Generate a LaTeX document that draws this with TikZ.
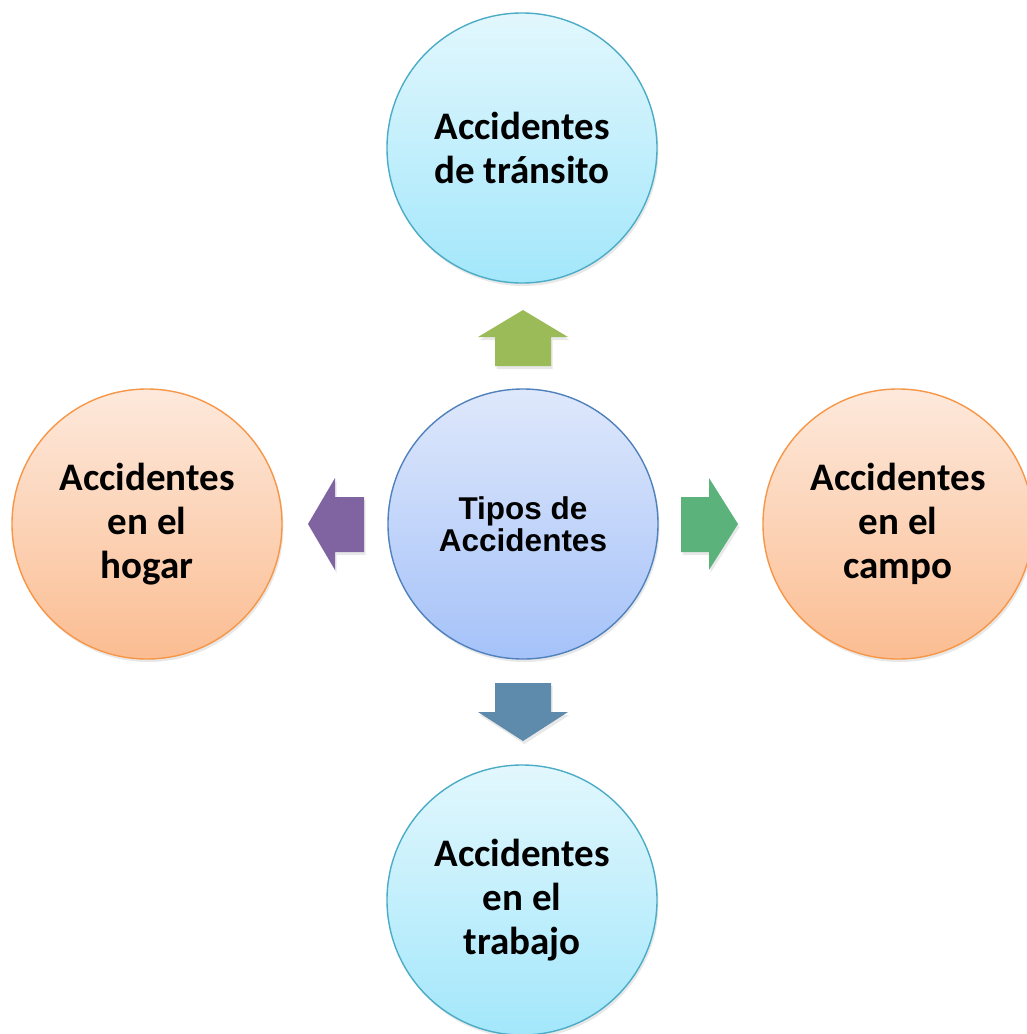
\documentclass[tikz,border=0pt]{standalone}
\usepackage{fontspec}
\setmainfont{Carlito}
\newfontfamily\arialf{Liberation Sans}
\usetikzlibrary{shadows}
\definecolor{cyanTop}{HTML}{E2F7FD}
\definecolor{cyanBot}{HTML}{A3E7FB}
\definecolor{cyanLine}{HTML}{4BACC6}
\definecolor{blueTop}{HTML}{DFE8FB}
\definecolor{blueBot}{HTML}{A5C2F9}
\definecolor{blueLine}{HTML}{4F81BD}
\definecolor{orTop}{HTML}{FDE9DC}
\definecolor{orBot}{HTML}{FBBD92}
\definecolor{orLine}{HTML}{F79646}
\definecolor{arrGreen}{HTML}{9BBB59}
\definecolor{arrTeal}{HTML}{5BB27B}
\definecolor{arrBlue}{HTML}{5E8AAB}
\definecolor{arrPurple}{HTML}{8064A2}
\tikzset{
  bubble/.style={circle, minimum size=270pt, inner sep=0pt, line width=1.4pt,
    align=center, text=black,
    drop shadow={opacity=0.18, shadow xshift=1.5pt, shadow yshift=-3pt}},
  cyanb/.style={bubble, draw=cyanLine, top color=cyanTop, bottom color=cyanBot,
    font=\fontsize{39}{44}\selectfont\bfseries},
  orb/.style={bubble, draw=orLine, top color=orTop, bottom color=orBot,
    font=\fontsize{39}{44}\selectfont\bfseries},
  blueb/.style={bubble, draw=blueLine, top color=blueTop, bottom color=blueBot,
    font=\arialf\fontsize{31.5}{32}\selectfont\bfseries},
  blockarrow/.style={draw=none, drop shadow={opacity=0.18, shadow xshift=1.5pt, shadow yshift=-3pt}}
}
\begin{document}
\begin{tikzpicture}[x=1pt,y=-1pt]
\useasboundingbox (0,0) rectangle (1027,1034);
\clip (0,0) rectangle (1027,1034);
\fill[white] (0,0) rectangle (1027,1034);
% nodes
\node[blueb] (center) at (523,524) {Tipos de\\Accidentes};
\node[cyanb] (top) at (522,148) {Accidentes\\de tránsito};
\node[orb] (left) at (147,524) {Accidentes\\en el\\hogar};
\node[orb] (right) at (898,524) {Accidentes\\en el\\campo};
\node[cyanb] (bottom) at (522,900) {Accidentes\\en el\\trabajo};
% block arrows
\filldraw[blockarrow, fill=arrGreen]
  (495,366) -- (495,337) -- (478,337) -- (523,310) -- (568,337) -- (551,337) -- (551,366) -- cycle;
\filldraw[blockarrow, fill=arrTeal]
  (681,497) -- (709,497) -- (709,478) -- (738,524) -- (709,570) -- (709,552) -- (681,552) -- cycle;
\filldraw[blockarrow, fill=arrBlue]
  (495,683) -- (551,683) -- (551,712) -- (568,712) -- (523,741) -- (478,712) -- (495,712) -- cycle;
\filldraw[blockarrow, fill=arrPurple]
  (364,497) -- (335,497) -- (335,478) -- (308,524) -- (335,570) -- (335,552) -- (364,552) -- cycle;
\end{tikzpicture}
\end{document}
